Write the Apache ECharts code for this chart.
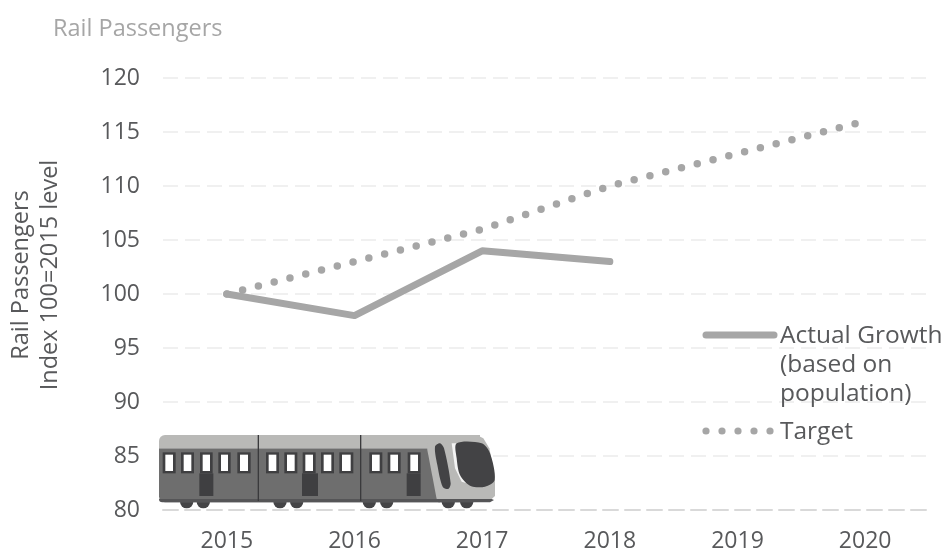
<!DOCTYPE html>
<html><head><meta charset="utf-8">
<style>html,body{margin:0;padding:0;background:#fff}#c{width:943px;height:558px}</style>
<script src="https://cdn.jsdelivr.net/npm/echarts@6/dist/echarts.min.js"></script></head>
<body><div id="c"></div>
<script>
const categories=['2015','2016','2017','2018','2019','2020'];
const actual=[100,98,104,103,null,null];
const target=[100,103,106,110,113,116];
const yTicks=[80,120,5];
const FONT='"Open Sans"';
const G='#a6a6a6';
const chart=echarts.init(document.getElementById('c'),null,{renderer:'canvas'});
const X=v=>140+v/3, Y=v=>420+v/3;
const rect=(a,b,c,d,fill,r)=>({type:'rect',z:50,shape:{x:X(a),y:Y(b),width:(c-a)/3,height:(d-b)/3,r:r||0},style:{fill}});
const poly=(pts,fill)=>({type:'polygon',z:50,shape:{points:pts.map(p=>[X(p[0]),Y(p[1])]),smooth:0.3},style:{fill}});
const polyS=(pts,fill)=>({type:'polygon',z:50,shape:{points:pts.map(p=>[X(p[0]),Y(p[1])])},style:{fill}});
const train=[];
[[120,160],[170,210],[400,440],[450,490],[668,708],[720,760],[905,945],[960,1000]].forEach(w=>{
 train.push({type:'sector',z:50,shape:{cx:X((w[0]+w[1])/2),cy:Y(245),r:(w[1]-w[0])/6,startAngle:0,endAngle:Math.PI},style:{fill:'#444446'}});
});
train.push(rect(57,85,900,247,'#6e6e6e',[0,0,0,6]));
train.push(rect(57,45,1020,85,'#b9b9b7',[6,0,0,0]));
train.push(rect(57,237,1000,247,'#555557',[0,0,0,6]));
train.push(polyS([[860,45],[1010,45],[1030,55],[1048,85],[1065,170],[1065,228],[1055,237],[890,237],[862,90]],'#b9b9b7'));
train.push(polyS([[895,237],[1055,237],[1062,240],[1050,247],[895,247]],'#555557'));
[[68,107],[123,162],[180,218],[235,272],[292,332],[378,417],[433,472],[488,527],[543,582],[598,640],[688,727],[743,782],[803,842]].forEach(w=>{
 train.push(rect(w[0],97,w[1],160,'#3f3f41'));
 train.push(rect(w[0]+8,104,w[1]-8,153,'#ffffff'));
});
[[178,220],[486,534],[800,842]].forEach(d=>train.push(rect(d[0],160,d[1],228,'#3f3f41')));
[355,662].forEach(x=>train.push(rect(x-2,45,x+2,243,'#3a3a3c')));
train.push(poly([[885,80],[900,70],[912,85],[932,190],[925,207],[908,200],[892,135]],'#434345'));
train.push(polyS([[935,70],[950,70],[955,145],[980,190],[965,185],[945,145]],'#f4f4f4'));
train.push(poly([[950,70],[1025,70],[1050,100],[1064,180],[1035,200],[990,197],[960,165],[950,115]],'#434345'));
const legendText=(x,y,text)=>({type:'text',z:60,x,y,style:{text,font:'24.5px '+FONT,fill:'#58595b',lineHeight:29,textVerticalAlign:'top'}});
const legend=[
 {type:'line',z:60,shape:{x1:706,y1:335,x2:774,y2:335},style:{stroke:G,lineWidth:7,lineCap:'round'}},
 legendText(780,322,'Actual Growth\n(based on\npopulation)'),
 ...[706,722,738,754,770].map(cx=>({type:'circle',z:60,shape:{cx,cy:431,r:3.6},style:{fill:G}})),
 legendText(780,418,'Target')
];
chart.setOption({
 animation:false,
 backgroundColor:'#fff',
 title:{text:'Rail Passengers',left:48,top:12,textStyle:{fontFamily:FONT,fontSize:23.5,fontWeight:'normal',color:'#a6a6a6'}},
 grid:{left:163,right:14,top:78,bottom:48,outerBoundsMode:'none'},
 xAxis:{type:'category',data:categories,boundaryGap:true,axisTick:{show:false},
  axisLine:{show:true,lineStyle:{color:'#d9d9d9',width:2,type:[15,7]}},
  axisLabel:{fontFamily:FONT,fontSize:23,color:'#58595b',margin:20}},
 yAxis:{type:'value',min:yTicks[0],max:yTicks[1],interval:yTicks[2],
  name:'Rail Passengers\nIndex 100=2015 level',nameLocation:'middle',nameGap:98,nameRotate:90,
  nameTextStyle:{fontFamily:FONT,fontSize:23.5,color:'#58595b',lineHeight:29,padding:[0,0,0,38]},
  axisLine:{show:false},axisTick:{show:false},
  axisLabel:{fontFamily:FONT,fontSize:23,color:'#58595b',margin:23,padding:[2,0,0,0]},
  splitLine:{lineStyle:{color:'#f0f0f0',width:2,type:[15,7]}}},
 series:[
  {name:'Target',type:'line',data:target,symbol:'none',z:3,lineStyle:{color:G,width:7.5,type:[0,16.28],cap:'round'}},
  {name:'Actual Growth (based on population)',type:'line',data:actual,symbol:'none',z:4,connectNulls:false,lineStyle:{color:G,width:7,cap:'round',join:'round'}}
 ],
 graphic:{elements:[...train,...legend]}
});
</script></body></html>
